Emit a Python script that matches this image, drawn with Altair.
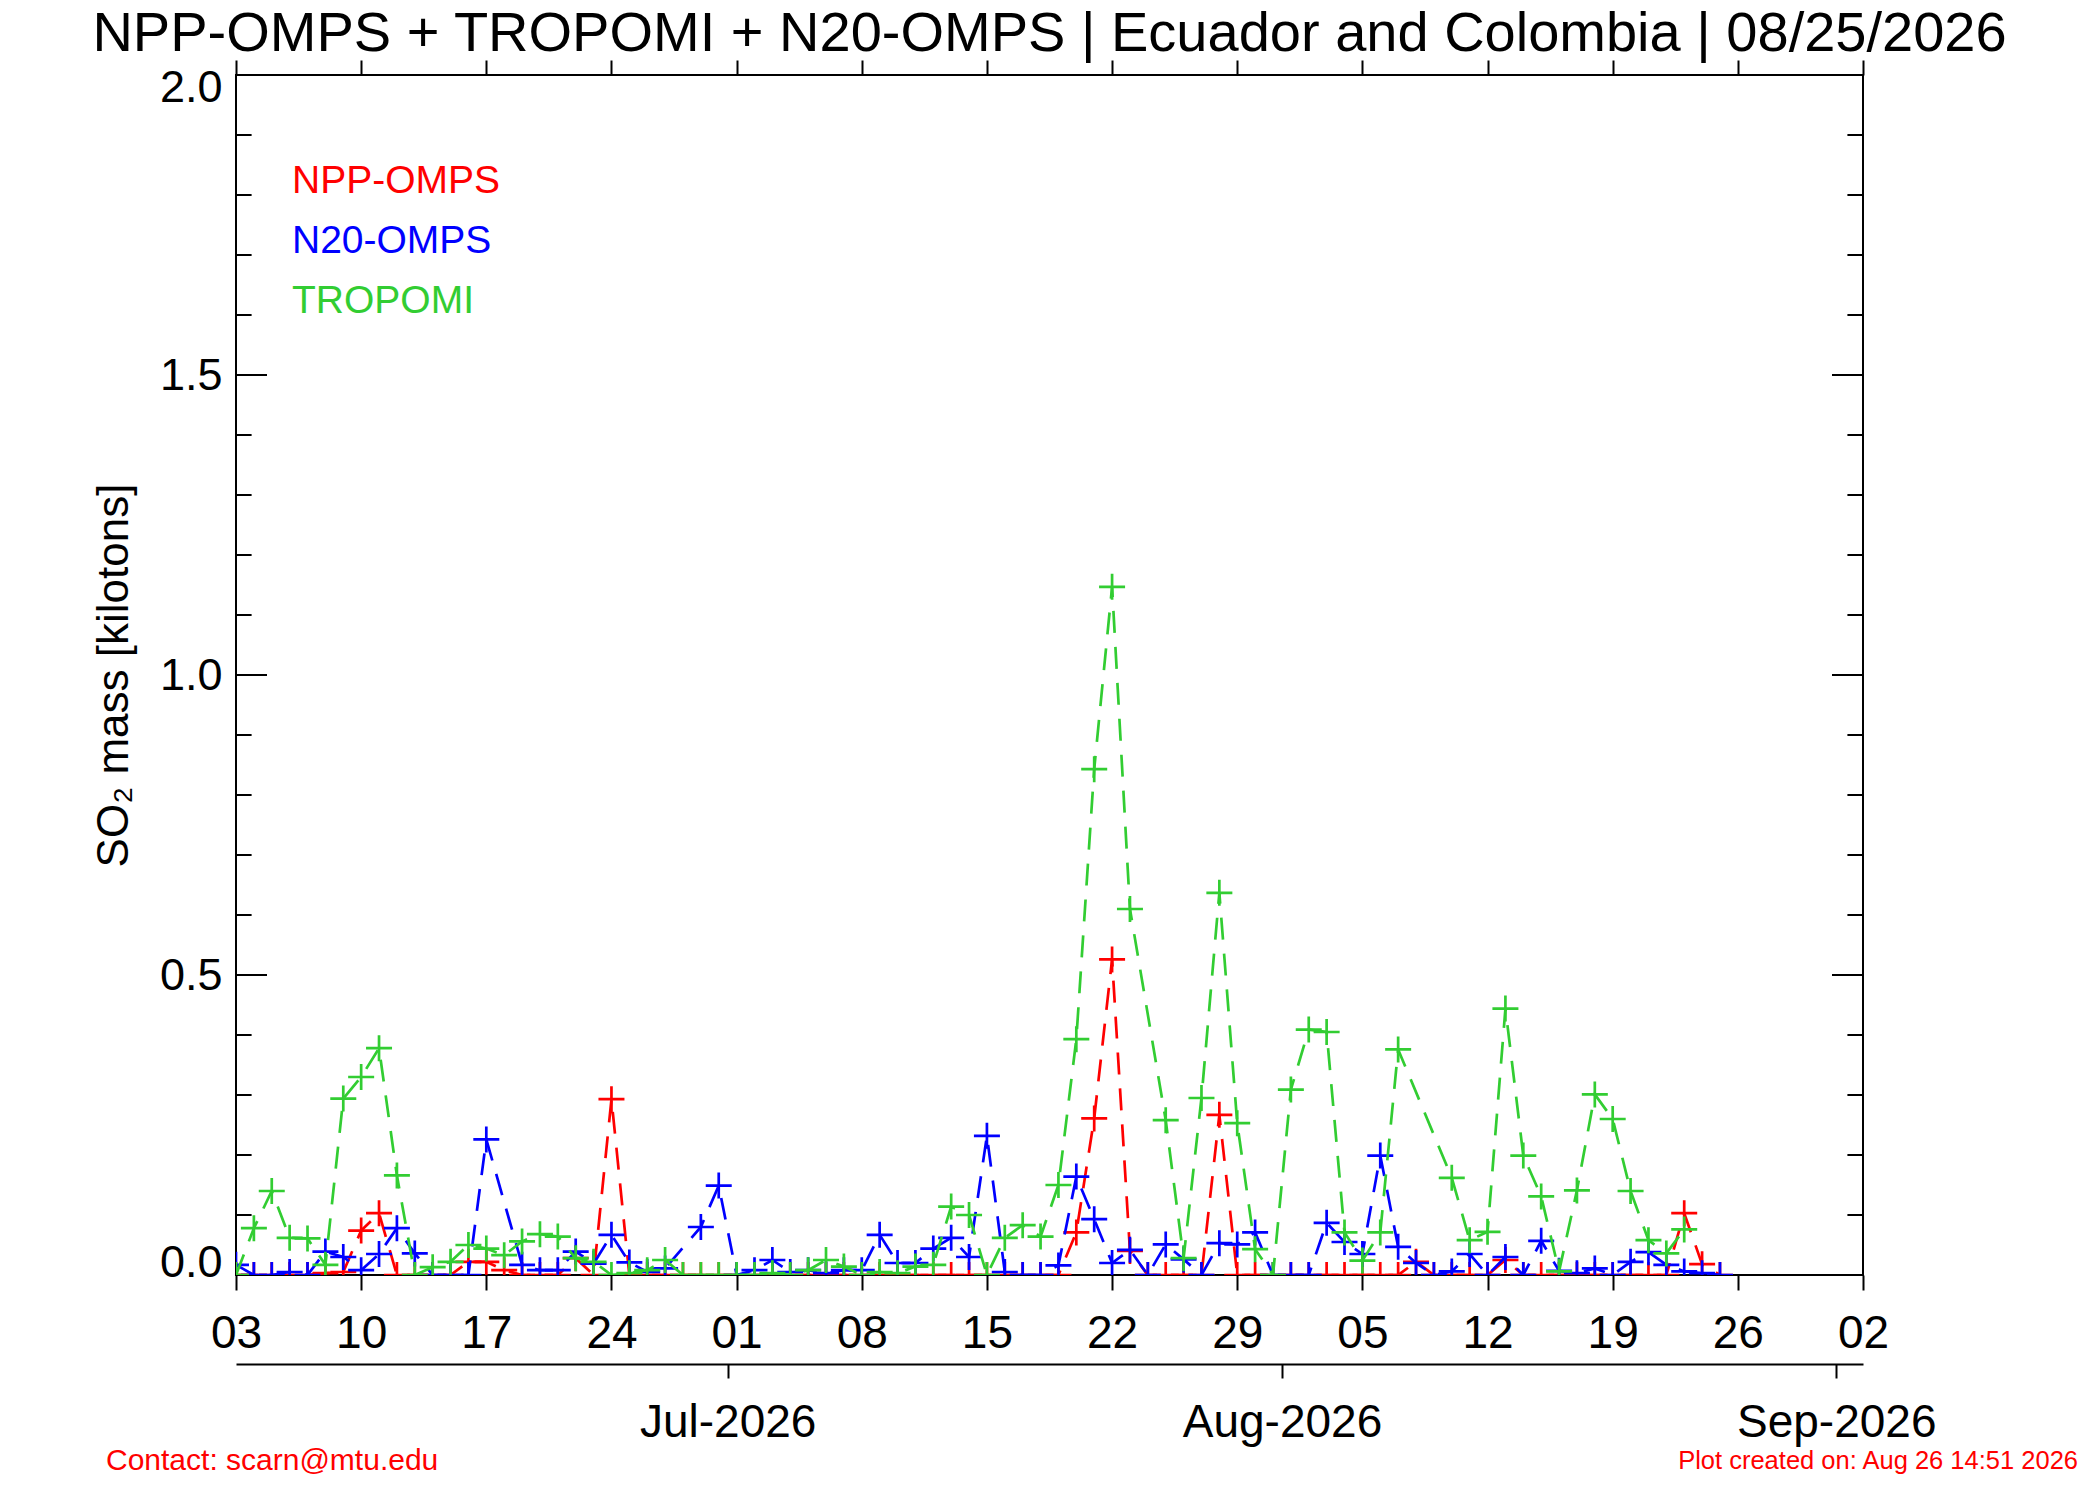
import altair as alt
import pandas as pd

# ---------------- data (daily, starting 2026-06-03) ----------------
START = "2026-06-03"
npp_omps = [0, 0, 0, 0, 0, 0.003, 0.005, 0.074, 0.103, 0,
            0, 0, 0, 0.022, 0.022, 0.008, 0, 0, 0, 0.028,
            0, 0.293, 0, 0, 0, 0, 0, 0, 0, 0,
            0, 0, 0, 0, 0, 0, 0, 0, 0, 0,
            0, 0, 0, 0, 0, 0, 0, 0.071, 0.261, 0.526,
            0.04, 0, 0, 0, 0, 0.267, 0, 0, 0, 0,
            0, 0, 0, 0, 0, 0, 0.022, 0, 0, 0,
            0, 0.025, 0, 0, 0, 0, 0, 0, 0, 0,
            0, 0.103, 0.018, 0]
n20_omps = [0.017, 0, 0, 0.005, 0, 0.039, 0.03, 0.008, 0.035, 0.078,
            0.036, 0, 0, 0, 0.226, None, 0.017, 0.008, 0.008, 0.039,
            0.019, 0.067, 0.021, 0.005, 0.011, None, 0.08, 0.149, 0, 0.008,
            0.025, 0.005, 0.008, 0.003, 0.008, 0.008, 0.067, 0.02, 0.02, 0.044,
            0.062, 0.03, 0.232, 0.005, 0, 0, 0.016, 0.164, 0.093, 0.02,
            0.042, 0, 0.051, 0.026, 0, 0.053, 0.051, 0.071, 0, 0,
            0, 0.087, 0.055, 0.035, 0.199, 0.047, 0.02, 0, 0.006, 0.035,
            0, 0.03, 0, 0.057, 0.007, 0.003, 0.011, 0, 0.022, 0.038,
            0.017, 0.006, 0.003, 0]
tropomi = [0.0, 0.078, 0.14, 0.062, 0.061, 0.017, 0.294, 0.33, 0.378, 0.166,
           0.0, 0.013, 0.022, 0.05, 0.044, 0.033, 0.056, 0.068, 0.064, 0.028,
           0.022, 0.0, 0.003, 0.008, 0.025, 0.0, 0.0, 0.0, 0.0, 0.0,
           0.003, 0.0, 0.008, 0.025, 0.014, 0.0, 0.005, 0.003, 0.014, 0.017,
           0.114, 0.1, 0.0, 0.062, 0.083, 0.064, 0.15, 0.393, 0.843, 1.147,
           0.61, None, 0.258, 0.028, 0.295, 0.637, 0.253, 0.043, 0.0, 0.309,
           0.409, 0.405, 0.071, 0.024, 0.071, 0.376, None, None, 0.162, 0.058,
           0.072, 0.444, 0.199, 0.131, 0.006, 0.141, 0.301, 0.26, 0.14, 0.058,
           0.036, 0.076]

series_names = ["NPP-OMPS", "N20-OMPS", "TROPOMI"]
series_colors = ["#ff0000", "#0000ff", "#32cd32"]
week_ticks = [(6, 3), (6, 10), (6, 17), (6, 24), (7, 1), (7, 8), (7, 15),
              (7, 22), (7, 29), (8, 5), (8, 12), (8, 19), (8, 26), (9, 2)]
month_ticks = [(7, 1), (8, 1), (9, 1)]
y_labels = [0.0, 0.5, 1.0, 1.5, 2.0]
y_minor = [round(i * 0.1, 1) for i in range(21)]

title_text = "NPP-OMPS + TROPOMI + N20-OMPS | Ecuador and Colombia | 08/25/2026"
y_title = "SO\u2082 mass [kilotons]"
contact_text = "Contact: scarn@mtu.edu"
created_text = "Plot created on: Aug 26 14:51 2026"

# ---------------- build table ----------------
rows = []
for name, vals in zip(series_names, [npp_omps, n20_omps, tropomi]):
    dates = pd.date_range(START, periods=len(vals), freq="D")
    for d, v in zip(dates, vals):
        if v is not None:
            rows.append({"date": d.strftime("%Y-%m-%d"), "series": name, "value": v})
df = pd.DataFrame(rows)

ticks_df = pd.DataFrame({"v": y_minor})
ticks_df["major"] = [abs((v * 2) - round(v * 2)) < 1e-9 for v in y_minor]

W, H = 1627, 1200
FONT = "Liberation Sans"

def dt(m, d):
    return alt.DateTime(year=2026, month=m, date=d, utc=True)

xscale = alt.Scale(type="utc", domain=[dt(6, 3), dt(9, 2)])
yscale = alt.Scale(domain=[0, 2], nice=False, zero=False)

yaxis = alt.Axis(values=y_labels, format=".1f", title=y_title, ticks=False, tickSize=0,
                 domain=False, grid=False, labelPadding=14, labelFlush=True,
                 labelFlushOffset=10,
                 labelFontSize=45, labelFont=FONT, labelColor="black",
                 titleFontSize=44, titleFont=FONT, titleFontWeight="normal",
                 titleColor="black", titleAngle=270, titleX=-122, titleY=H / 2,
                 titleAlign="center", titleBaseline="middle")

week_axis = alt.Axis(orient="bottom", values=[dt(m, d) for m, d in week_ticks],
                     format="%d", title=None, domain=False, grid=False,
                     ticks=True, tickSize=15, tickWidth=2, tickColor="black",
                     labelFlush=False, labelPadding=21, labelFontSize=46,
                     labelFont=FONT, labelColor="black", labelOverlap=False)
top_axis = alt.Axis(orient="top", values=[dt(m, d) for m, d in week_ticks],
                    labels=False, title=None, domain=False, grid=False,
                    ticks=True, tickSize=15, tickWidth=2, tickColor="black")
month_axis = alt.Axis(orient="bottom", values=[dt(m, d) for m, d in month_ticks],
                      format="%b-%Y", title=None, domain=True, domainColor="black",
                      domainWidth=2, grid=False, ticks=True, tickSize=14,
                      tickWidth=2, tickColor="black", tickOffset=-8.9,
                      offset=89, labelFlush=False, labelPadding=22,
                      labelFontSize=46, labelFont=FONT, labelColor="black",
                      labelOverlap=False, labelLimit=600)

plus = "M-1,0L1,0M0,-1L0,1"
layers = []

# inward y ticks (left and right)
for side in ["left", "right"]:
    for major, ln in [(False, 15.6), (True, 31)]:
        base = alt.Chart(ticks_df).transform_filter(
            "datum.major" if major else "!datum.major")
        if side == "left":
            xa, xb = alt.value(0), alt.value(ln)
        else:
            xa, xb = alt.value(W), alt.value(W - ln)
        layers.append(base.mark_rule(color="black", strokeWidth=2).encode(
            y=alt.Y("v:Q", scale=yscale, axis=yaxis), x=xa, x2=xb))

axes_for = {"NPP-OMPS": week_axis, "N20-OMPS": top_axis, "TROPOMI": month_axis}
for name, color in zip(series_names, series_colors):
    sub = alt.Chart(df).transform_filter(alt.datum.series == name)
    layers.append(sub.mark_line(color=color, strokeWidth=2.7, strokeDash=[22, 14],
                                clip=True).encode(
        x=alt.X("date:T", scale=xscale, axis=axes_for[name]),
        y=alt.Y("value:Q", scale=yscale, axis=yaxis)))
    layers.append(sub.mark_point(shape=plus, size=676, filled=False, color=color,
                                 strokeWidth=2.7, opacity=1, clip=True).encode(
        x=alt.X("date:T", scale=xscale, axis=None),
        y=alt.Y("value:Q", scale=yscale, axis=yaxis)))

# legend texts
for i, (name, color) in enumerate(zip(series_names, series_colors)):
    layers.append(alt.Chart(pd.DataFrame({"t": [name]})).mark_text(
        align="left", baseline="middle", font=FONT, fontSize=39, color=color).encode(
        text="t:N", x=alt.value(56), y=alt.value(106 + 60 * i)))

# footers
layers.append(alt.Chart(pd.DataFrame({"t": [contact_text]})).mark_text(
    align="left", baseline="alphabetic", font=FONT, fontSize=30, color="#ff0000").encode(
    text="t:N", x=alt.value(-130), y=alt.value(1395)))
layers.append(alt.Chart(pd.DataFrame({"t": [created_text]})).mark_text(
    align="right", baseline="alphabetic", font=FONT, fontSize=25.5, color="#ff0000").encode(
    text="t:N", x=alt.value(1842), y=alt.value(1394)))

chart = alt.layer(*layers).resolve_axis(x="independent").properties(
    width=W, height=H,
    title=alt.Title(title_text, font=FONT, fontSize=56, fontWeight="normal",
                    color="black", anchor="middle", offset=6, dy=10),
    padding={"left": 228, "top": 67, "right": 229, "bottom": 217},
    autosize=alt.AutoSizeParams(type="none"),
    background="white",
).configure_view(stroke="black", strokeWidth=2)

chart.save("out.html", embed_options={"renderer": "svg", "actions": False})
